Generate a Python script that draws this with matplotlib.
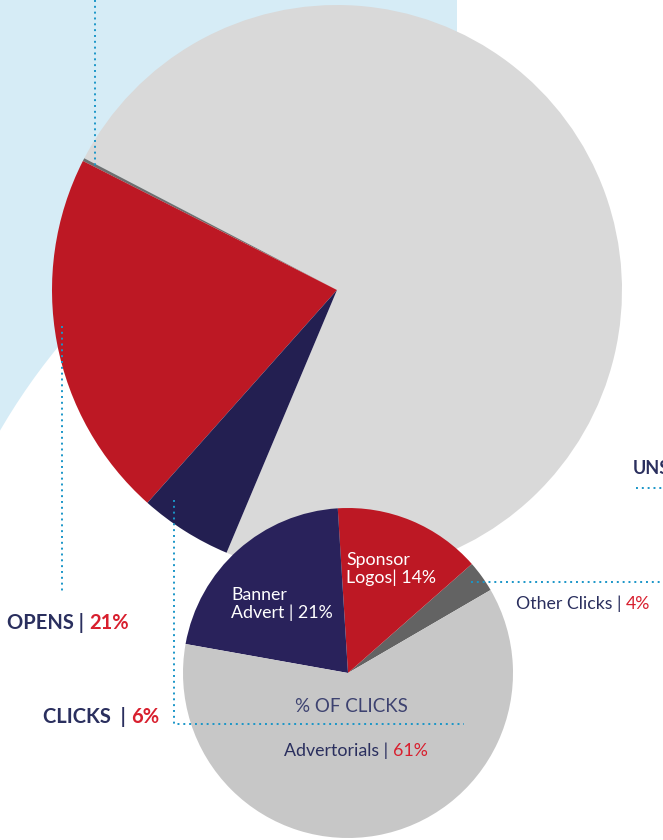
import matplotlib
matplotlib.use("Agg")
from matplotlib import pyplot as plt
from matplotlib.patches import Rectangle, Circle
from matplotlib.offsetbox import TextArea, HPacker, AnnotationBbox

plt.rcParams['font.family'] = ['Lato', 'DejaVu Sans']

W, H = 663, 840

# big pie: not opened / unsubscribes / opens / clicks (shares)
email_labels = ["Not opened", "Unsubscribes", "Opens", "Clicks"]
email_share = [73.7, 0.17, 20.9, 5.25]
email_colors = ["#d9d9d9", "#6f6f6f", "#bd1824", "#231f51"]

# small pie: % of clicks
click_labels = ["Other Clicks", "Sponsor Logos", "Banner Advert", "Advertorials"]
click_share = [3.1, 14.5, 21.2, 61.2]
click_colors = ["#636363", "#bd1824", "#29225b", "#c7c7c7"]

NAVY = "#2a2f5e"
RED = "#d81f2e"
DOT = "#1a96c8"


def Y(y):
    # image rows -> data y (y axis points up)
    return H - y


fig = plt.figure(figsize=(W / 100, H / 100), dpi=100)
ax = fig.add_axes([0, 0, 1, 1])

# light blue backdrop with white arc cut out
ax.add_patch(Rectangle((0, Y(700)), 457, 700, color="#d6ecf6", lw=0, zorder=0))
ax.add_patch(Circle((550, Y(750)), 636, color="white", lw=0, zorder=0.5))

ax.pie(email_share, colors=email_colors, startangle=247.2, counterclock=True,
       center=(337, Y(290)), radius=285, wedgeprops=dict(linewidth=0))
ax.pie(click_share, colors=click_colors, startangle=30.2, counterclock=True,
       center=(348, Y(673)), radius=165, wedgeprops=dict(linewidth=0))

# dotted leader lines
dot = dict(color=DOT, lw=1.4, linestyle=(0, (1, 2)), zorder=3)
ax.plot([95, 95], [Y(0), Y(166)], **dot)
ax.plot([62, 62], [Y(326), Y(592)], **dot)
ax.plot([174, 174, 464], [Y(500), Y(724), Y(724)], **dot)
ax.plot([471, 663], [Y(582), Y(582)], **dot)
ax.plot([636, 663], [Y(488), Y(488)], **dot)


def rich(x, y, parts, size, weight="normal", align=(0, 0.5)):
    boxes = [TextArea(s, textprops=dict(color=c, fontsize=size, fontweight=weight))
             for s, c in parts]
    pack = HPacker(children=boxes, sep=0, pad=0, align="baseline")
    ab = AnnotationBbox(pack, (x, Y(y)), xycoords="data", box_alignment=align,
                        frameon=False, pad=0, zorder=5)
    ax.add_artist(ab)


rich(7, 623, [("OPENS | ", NAVY), ("21%", RED)], 14.5, "bold")
rich(43, 717, [("CLICKS  | ", NAVY), ("6%", RED)], 14.5, "bold")
# cut off by the right edge, as in the original layout
ax.text(633, Y(468), "UNSUBSCRIBES", color=NAVY, fontsize=13, fontweight="bold",
        va="center", ha="left", zorder=5)

rich(516, 604, [("Other Clicks | ", NAVY), ("4%", RED)], 12.8)
rich(356, 751, [("Advertorials | ", NAVY), ("61%", RED)], 12.8, align=(0.5, 0.5))
ax.text(351, Y(706), "% OF CLICKS", color="#3d4270", fontsize=13.5, ha="center",
        va="center", zorder=5)

ax.text(346, Y(569), "Sponsor\nLogos| 14%", color="white", fontsize=12.8,
        ha="left", va="center", linespacing=1.15, zorder=5)
ax.text(231, Y(604), "Banner\nAdvert | 21%", color="white", fontsize=12.8,
        ha="left", va="center", linespacing=1.15, zorder=5)

ax.set_xlim(0, W)
ax.set_ylim(0, H)
ax.set_aspect("auto")
ax.axis("off")

fig.savefig("out.png", dpi=100)
plt.close(fig)
